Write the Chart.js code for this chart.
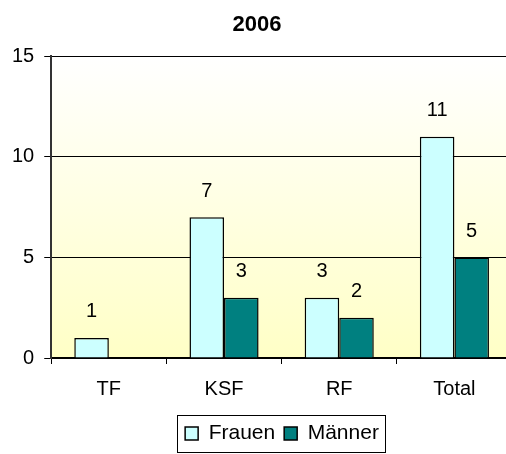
<!DOCTYPE html>
<html>
<head>
<meta charset="utf-8">
<script src="https://cdn.jsdelivr.net/npm/chart.js@4.4.1/dist/chart.umd.min.js"></script>
<style>
  html, body { margin: 0; padding: 0; background: #fff; overflow: hidden; }
  #wrap { width: 512px; height: 454px; }
</style>
</head>
<body>
<div id="wrap"><canvas id="chart"></canvas></div>
<script>
const categories = ['TF', 'KSF', 'RF', 'Total'];
const frauen = [1, 7, 3, 11];
const maenner = [null, 3, 2, 5];
const yTicks = [0, 5, 10, 15];

const FONT = "'Liberation Sans', Arial, sans-serif";

// yellowish gradient behind the plot area
const plotBackground = {
    id: 'plotBackground',
    beforeDraw(chart) {
        const { ctx, chartArea: a } = chart;
        const g = ctx.createLinearGradient(0, a.top, 0, a.bottom);
        g.addColorStop(0, '#ffffff');
        g.addColorStop(1, '#ffffc6');
        ctx.save();
        ctx.fillStyle = g;
        ctx.fillRect(a.left, a.top, a.right - a.left, a.bottom - a.top);
        ctx.restore();
    }
};

// value labels above bars
const valueLabels = {
    id: 'valueLabels',
    afterDatasetsDraw(chart) {
        const ctx = chart.ctx;
        ctx.save();
        ctx.font = '20px ' + FONT;
        ctx.fillStyle = '#000';
        ctx.textAlign = 'center';
        ctx.textBaseline = 'middle';
        chart.data.datasets.forEach((ds, i) => {
            chart.getDatasetMeta(i).data.forEach((bar, j) => {
                if (ds.data[j] == null) return;
                ctx.fillText(ds.data[j], bar.x, bar.y - 26);
            });
        });
        ctx.restore();
    }
};

// centre the legend under the plot area and frame it
const legendFrame = {
    id: 'legendFrame',
    afterLayout(chart) {
        const lg = chart.legend;
        const a = chart.chartArea;
        const dx = Math.round((a.left + a.right) / 2 - (lg.left + lg.right) / 2);
        lg.left += dx;
        lg.right += dx;
        (lg.legendHitBoxes || []).forEach(b => { b.left += dx; });
    },
    afterDraw(chart) {
        const boxes = chart.legend.legendHitBoxes;
        if (!boxes || !boxes.length) return;
        const left = Math.min(...boxes.map(b => b.left)) - 8;
        const right = Math.max(...boxes.map(b => b.left + b.width)) + 6;
        const top = boxes[0].top - 8;
        const bottom = boxes[0].top + boxes[0].height + 8;
        const ctx = chart.ctx;
        ctx.save();
        ctx.strokeStyle = '#000';
        ctx.lineWidth = 1;
        ctx.strokeRect(Math.round(left) + 0.5, Math.round(top) + 0.5, Math.round(right - left), Math.round(bottom - top));
        ctx.restore();
    }
};

new Chart(document.getElementById('chart'), {
    type: 'bar',
    data: {
        labels: categories,
        datasets: [
            { label: 'Frauen', data: frauen, backgroundColor: '#ccffff', borderColor: '#000', borderWidth: 1.5, categoryPercentage: 0.6, barPercentage: 1.0 },
            { label: 'Männer', data: maenner, backgroundColor: '#008080', borderColor: '#000', borderWidth: 1.5, categoryPercentage: 0.6, barPercentage: 1.0 }
        ]
    },
    options: {
        responsive: true,
        maintainAspectRatio: false,
        animation: false,
        layout: { padding: { left: 2, right: 0, top: 0, bottom: 0 } },
        plugins: {
            title: {
                display: true,
                text: '2006',
                color: '#000',
                font: { family: FONT, size: 22, weight: 'bold' },
                padding: { top: 12, bottom: 18 }
            },
            legend: {
                position: 'bottom',
                labels: {
                    color: '#000',
                    font: { family: FONT, size: 21 },
                    boxWidth: 13,
                    boxHeight: 13,
                    padding: 9
                }
            },
            tooltip: { enabled: false }
        },
        scales: {
            x: {
                grid: { drawOnChartArea: false, drawTicks: true, tickLength: 6, color: '#000', offset: true },
                border: { color: '#000', width: 1.5 },
                ticks: { color: '#000', font: { family: FONT, size: 20 }, padding: 13 }
            },
            y: {
                min: 0,
                max: 15,
                afterBuildTicks(axis) { axis.ticks = yTicks.map(v => ({ value: v })); },
                grid: { color: '#000', tickLength: 7, drawTicks: true },
                border: { color: '#333', width: 2 },
                ticks: { color: '#000', font: { family: FONT, size: 20 }, padding: 10 }
            }
        }
    },
    plugins: [plotBackground, valueLabels, legendFrame]
});
</script>
</body>
</html>
